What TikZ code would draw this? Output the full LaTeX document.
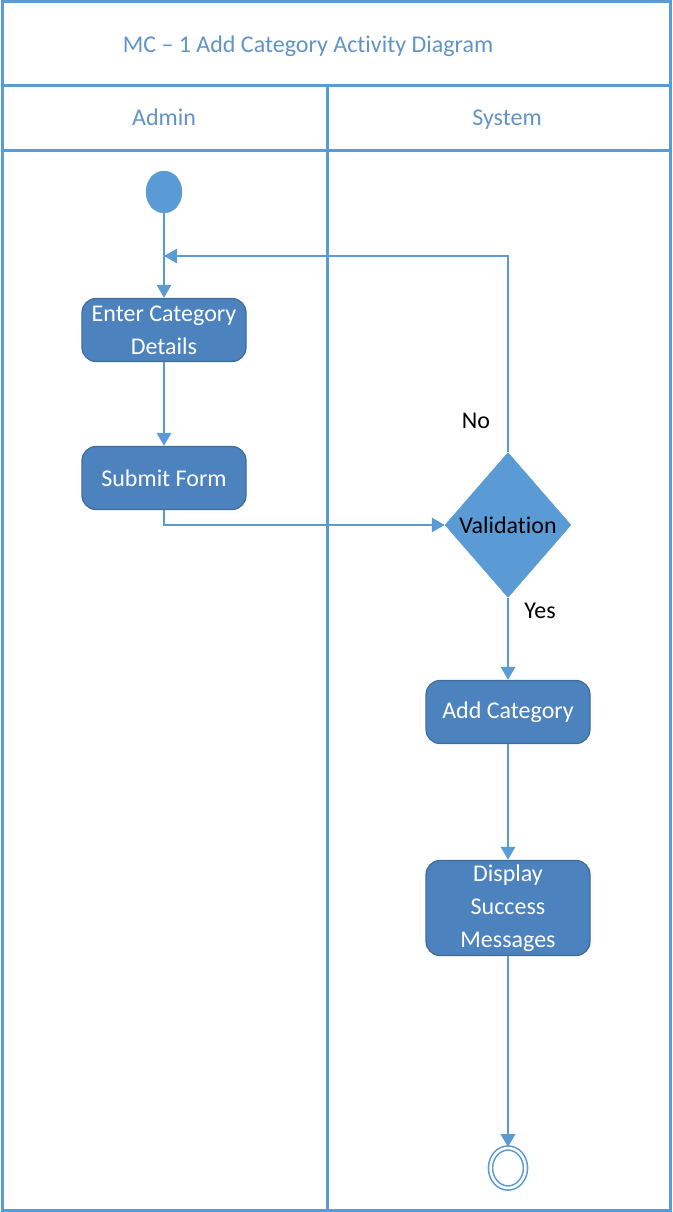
\documentclass[tikz,border=0pt]{standalone}
\usepackage{fontspec}
\setmainfont[Ligatures={NoCommon,NoContextual},RawFeature=-calt]{Carlito}
\usetikzlibrary{shapes.geometric,arrows.meta}

\definecolor{laneblue}{RGB}{91,155,213}
\definecolor{headblue}{RGB}{96,148,200}
\definecolor{boxblue}{RGB}{76,130,189}
\definecolor{boxedge}{RGB}{62,108,152}

\tikzset{
  lane/.style={draw=laneblue, line width=3pt},
  headtext/.style={text=headblue, anchor=base, font=\fontsize{24}{30}\selectfont},
  actbox/.style={draw=boxedge, line width=1.2pt, fill=boxblue, rounded corners=14pt,
    minimum width=164, minimum height=63, text=white, align=center,
    font=\fontsize{24}{33}\selectfont},
  decision/.style={diamond, draw=laneblue, fill=laneblue, minimum width=126,
    minimum height=145, inner sep=0pt},
  startnode/.style={ellipse, draw=laneblue, fill=laneblue, minimum width=36, minimum height=42},
  endnode/.style={ellipse, draw=laneblue, double=white, double distance=2.5pt,
    line width=1.6pt, minimum width=35, minimum height=40},
  guard/.style={font=\fontsize{24}{30}\selectfont},
  flow/.style={draw=laneblue, line width=2.8pt, -{Triangle[length=13pt,width=14pt]}}
}

\begin{document}
\begin{tikzpicture}[x=1pt, y=-1pt]
    \useasboundingbox (0,0) rectangle (672,1212);
    \draw[lane] (2,2) rectangle (670,1210);
    \draw[lane] (2,86) -- (670,86);
    \draw[lane] (2,150) -- (670,150);
    \draw[lane] (327,86) -- (327,1210);
    \node[headtext] (title) at (308,53) {MC – 1 Add Category Activity Diagram};
    \node[headtext] (admin) at (164,126) {Admin};
    \node[headtext] (system) at (507,126) {System};

    \node[startnode] (start) at (164,192) {};
    \node[actbox] (enter) at (164,330) {Enter Category\\Details};
    \node[actbox] (submit) at (164,478) {Submit Form};
    \node[decision, label={[guard]center:Validation}] (valid) at (508,525) {};
    \node[actbox] (addcat) at (508,712) {Add Category};
    \node[actbox, minimum height=95] (display) at (508,908) {Display\\Success\\Messages};
    \node[endnode] (final) at (508,1168) {};
    \node[guard] (nolbl) at (476,421) {No};
    \node[guard] (yeslbl) at (540,611) {Yes};
    \coordinate (back) at (164,256);

    \draw[flow] (start) -- (enter);
    \draw[flow] (enter) -- (submit);
    \draw[flow] (submit.south) |- (valid.west);
    \draw[flow] (valid.north) |- (back);
    \draw[flow] (valid.south) -- (addcat.north);
    \draw[flow] (addcat) -- (display);
    \draw[flow] (display) -- (final);
\end{tikzpicture}
\end{document}
